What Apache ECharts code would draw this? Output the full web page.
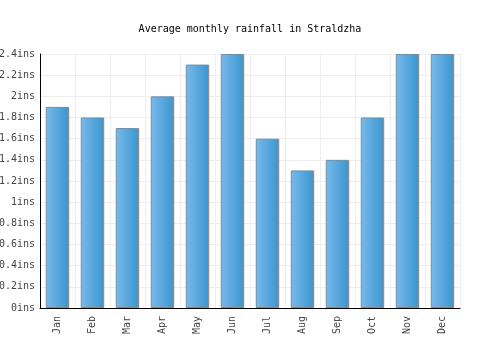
<!DOCTYPE html>
<html>
  <head>
    <meta charset="utf-8">
    <title>Straldzha rainfall</title>
    <script src="https://cdn.jsdelivr.net/npm/echarts@6/dist/echarts.min.js"></script>
    <style>
      html, body { margin: 0; padding: 0; background: #fff; }
      #chart { width: 500px; height: 350px; }
    </style>
  </head>
  <body>
    <div id="chart"></div>
    <script>
      const months = ["Jan", "Feb", "Mar", "Apr", "May", "Jun", "Jul", "Aug", "Sep", "Oct", "Nov", "Dec"];
      const rainfall = [1.9, 1.8, 1.7, 2.0, 2.3, 2.4, 1.6, 1.3, 1.4, 1.8, 2.4, 2.4];
      const font = "DejaVu Sans Mono";

      const chart = echarts.init(document.getElementById("chart"));
      chart.setOption({
        animation: false,
        title: {
          text: "Average monthly rainfall in Straldzha",
          left: "center",
          top: 19,
          textStyle: { fontFamily: font, fontSize: 10, fontWeight: "normal", color: "#000" }
        },
        grid: { left: 40, right: 40, top: 54, bottom: 42, containLabel: false, outerBoundsMode: "none" },
        xAxis: {
          type: "category",
          data: months,
          axisLine: { lineStyle: { color: "#000", width: 1 } },
          axisTick: { show: false },
          splitLine: { show: true, interval: 0, lineStyle: { color: "#eeeeee" } },
          axisLabel: { rotate: 90, interval: 0, fontFamily: font, fontSize: 10, color: "#444", margin: 8 }
        },
        yAxis: {
          type: "value",
          min: 0,
          max: 2.4,
          interval: 0.2,
          axisLine: { show: true, lineStyle: { color: "#000", width: 1 } },
          axisTick: { show: false },
          splitLine: { lineStyle: { color: "#eeeeee" } },
          axisLabel: {
            fontFamily: font, fontSize: 10, color: "#444", margin: 5,
            formatter: v => (Math.round(v * 10) / 10) + "ins"
          }
        },
        series: [{
          type: "bar",
          data: rainfall,
          barWidth: "67%",
          itemStyle: {
            borderColor: "#888",
            borderWidth: 1,
            color: new echarts.graphic.LinearGradient(0, 0, 1, 0, [
              { offset: 0, color: "#7ab9ea" },
              { offset: 1, color: "#3896d0" }
            ])
          }
        }]
      });
    </script>
  </body>
</html>
